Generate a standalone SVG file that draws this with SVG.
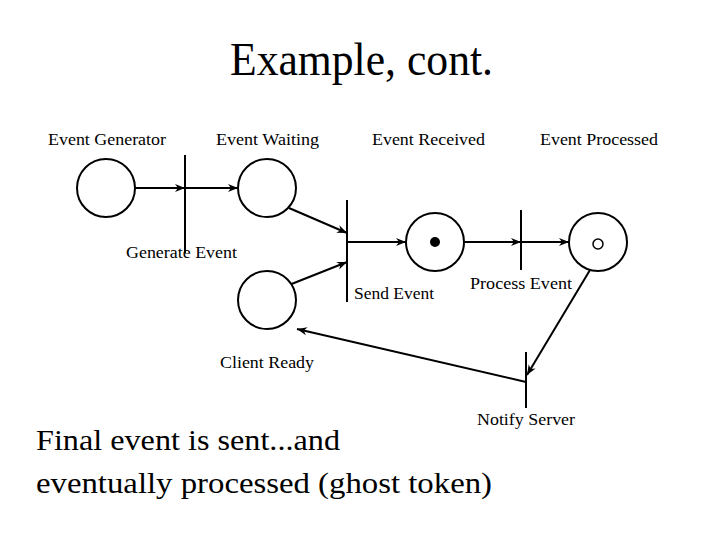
<svg xmlns="http://www.w3.org/2000/svg" width="720" height="540" viewBox="0 0 720 540">
<defs><style>
text{font-family:"Liberation Serif","DejaVu Serif",serif;fill:#000}
.l{font-size:16px}.p{fill:#fff;stroke:#000;stroke-width:2}.t{stroke:#000;stroke-width:2}
.c line{stroke:#000;stroke-width:2;marker-end:url(#a)}
</style>
<marker id="a" viewBox="0 0 10 10" refX="10" refY="5" markerWidth="10" markerHeight="10" markerUnits="userSpaceOnUse" orient="auto"><path d="M0,1 L10,5 L0,9 L3,5z" fill="#000"/></marker></defs>
<rect width="720" height="540" fill="#fff"/>
<text x="230" y="75" font-size="46" textLength="263" lengthAdjust="spacingAndGlyphs">Example, cont.</text>
<text class="l" x="48" y="145" textLength="118" lengthAdjust="spacingAndGlyphs">Event Generator</text>
<text class="l" x="216" y="145" textLength="103" lengthAdjust="spacingAndGlyphs">Event Waiting</text>
<text class="l" x="372" y="145" textLength="113" lengthAdjust="spacingAndGlyphs">Event Received</text>
<text class="l" x="540" y="145" textLength="118" lengthAdjust="spacingAndGlyphs">Event Processed</text>
<g class="c" id="connectors">
<line x1="135" y1="188" x2="185" y2="188"/><line x1="185" y1="188" x2="238" y2="188"/>
<line x1="289" y1="208" x2="347" y2="233"/><line x1="289" y1="285" x2="347" y2="262"/>
<line x1="347" y1="242" x2="406" y2="242"/><line x1="464" y1="242" x2="521" y2="242"/>
<line x1="521" y1="242" x2="569" y2="242"/><line x1="590" y1="270" x2="527" y2="375"/>
<line x1="526" y1="382" x2="297" y2="329"/>
</g>
<g id="p1"><circle class="p" cx="106" cy="188" r="29"/></g>
<g id="t1"><line class="t" x1="185" y1="155" x2="185" y2="253"/><text class="l" x="126" y="258" textLength="111" lengthAdjust="spacingAndGlyphs">Generate Event</text></g>
<g id="p2"><circle class="p" cx="267" cy="188" r="29"/></g>
<g id="t2"><line class="t" x1="347" y1="200" x2="347" y2="302"/><text class="l" x="354" y="299" textLength="80" lengthAdjust="spacingAndGlyphs">Send Event</text></g>
<g id="p3"><circle class="p" cx="435" cy="242" r="29"/><circle cx="435" cy="242" r="5" fill="#000"/></g>
<g id="t3"><line class="t" x1="521" y1="210" x2="521" y2="270"/><text class="l" x="470" y="289" textLength="102" lengthAdjust="spacingAndGlyphs">Process Event</text></g>
<g id="p4"><circle class="p" cx="598" cy="242" r="29"/><circle cx="598" cy="244" r="5" fill="none" stroke="#000" stroke-width="1.5"/></g>
<g id="p5"><circle class="p" cx="267" cy="300" r="29"/><text class="l" x="220" y="368" textLength="94" lengthAdjust="spacingAndGlyphs">Client Ready</text></g>
<g id="t4"><line class="t" x1="526" y1="352" x2="526" y2="408"/><text class="l" x="477" y="425" textLength="98" lengthAdjust="spacingAndGlyphs">Notify Server</text></g>
<text x="36" y="450" font-size="30" textLength="304" lengthAdjust="spacingAndGlyphs">Final event is sent...and</text>
<text x="36" y="493" font-size="30" textLength="456" lengthAdjust="spacingAndGlyphs">eventually processed (ghost token)</text>
</svg>
